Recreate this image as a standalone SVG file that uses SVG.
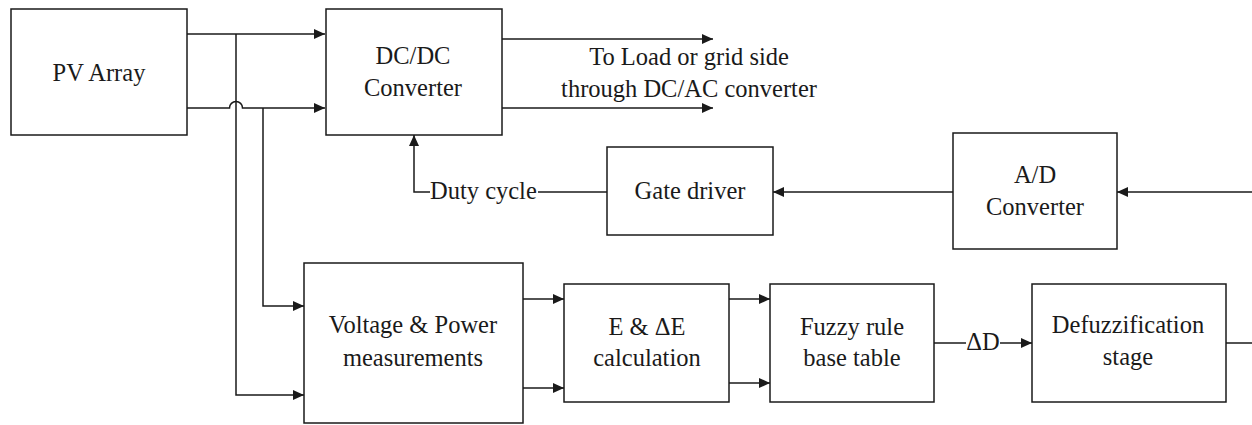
<svg xmlns="http://www.w3.org/2000/svg" width="1252" height="425" viewBox="0 0 1252 425">
<style>
.box{fill:#fff;stroke:#1a1a1a;stroke-width:1.5}
.ln{fill:none;stroke:#1a1a1a;stroke-width:1.5}
text{font-family:'Liberation Serif','DejaVu Serif',serif;font-size:24.5px;fill:#1a1a1a}
.t{text-anchor:middle}
</style>
<defs>
<marker id="ah" viewBox="0 0 11 10" refX="11" refY="5" markerWidth="11" markerHeight="10" markerUnits="userSpaceOnUse" orient="auto">
<path d="M0,0 L11,5 L0,10 z" fill="#1a1a1a"/>
</marker>
</defs>
<rect width="1252" height="425" fill="#fff"/>
<g id="connectors">
<path class="ln" d="M187,34 H325" marker-end="url(#ah)"/>
<path class="ln" d="M187,108 H229.5 A6.5,6.5 0 0 1 242.5,108 H325" marker-end="url(#ah)"/>
<path class="ln" d="M236,34 V395 H304" marker-end="url(#ah)"/>
<path class="ln" d="M263,108 V306 H304" marker-end="url(#ah)"/>
<path class="ln" d="M502,39 H713" marker-end="url(#ah)"/>
<path class="ln" d="M502,108 H713" marker-end="url(#ah)"/>
<path class="ln" d="M607,192 H538"/>
<path class="ln" d="M430,192 H414 V135" marker-end="url(#ah)"/>
<path class="ln" d="M953,192 H773" marker-end="url(#ah)"/>
<path class="ln" d="M1252,192 H1117" marker-end="url(#ah)"/>
<path class="ln" d="M523,299 H564" marker-end="url(#ah)"/>
<path class="ln" d="M523,388 H564" marker-end="url(#ah)"/>
<path class="ln" d="M729,299 H770" marker-end="url(#ah)"/>
<path class="ln" d="M729,383 H770" marker-end="url(#ah)"/>
<path class="ln" d="M934,343 H966"/>
<path class="ln" d="M1000,343 H1032" marker-end="url(#ah)"/>
<path class="ln" d="M1226,343 H1252"/>
<text class="t" x="689" y="65">To Load or grid side</text>
<text class="t" x="689" y="97">through DC/AC converter</text>
<text x="430" y="199">Duty cycle</text>
<text class="t" x="983" y="350">ΔD</text>
</g>
<g id="pv">
<rect class="box" x="11" y="9" width="176" height="126"/>
<text class="t" x="99" y="81">PV Array</text>
</g>
<g id="dcdc">
<rect class="box" x="326" y="9" width="176" height="126"/>
<text class="t" x="413" y="64">DC/DC</text>
<text class="t" x="413" y="96">Converter</text>
</g>
<g id="gate">
<rect class="box" x="607" y="147" width="166" height="88"/>
<text class="t" x="690" y="199">Gate driver</text>
</g>
<g id="adc">
<rect class="box" x="953" y="133" width="164" height="116"/>
<text class="t" x="1035" y="183">A/D</text>
<text class="t" x="1035" y="215">Converter</text>
</g>
<g id="vpm">
<rect class="box" x="304" y="263" width="219" height="160"/>
<text class="t" x="413" y="333">Voltage &amp; Power</text>
<text class="t" x="413" y="366">measurements</text>
</g>
<g id="ede">
<rect class="box" x="564" y="284" width="165" height="118"/>
<text class="t" x="647" y="335">E &amp; ΔE</text>
<text class="t" x="647" y="366">calculation</text>
</g>
<g id="fuzzy">
<rect class="box" x="770" y="284" width="164" height="118"/>
<text class="t" x="852" y="335">Fuzzy rule</text>
<text class="t" x="852" y="366">base table</text>
</g>
<g id="defuzz">
<rect class="box" x="1032" y="284" width="194" height="118"/>
<text class="t" x="1128" y="333">Defuzzification</text>
<text class="t" x="1128" y="365">stage</text>
</g>
</svg>
